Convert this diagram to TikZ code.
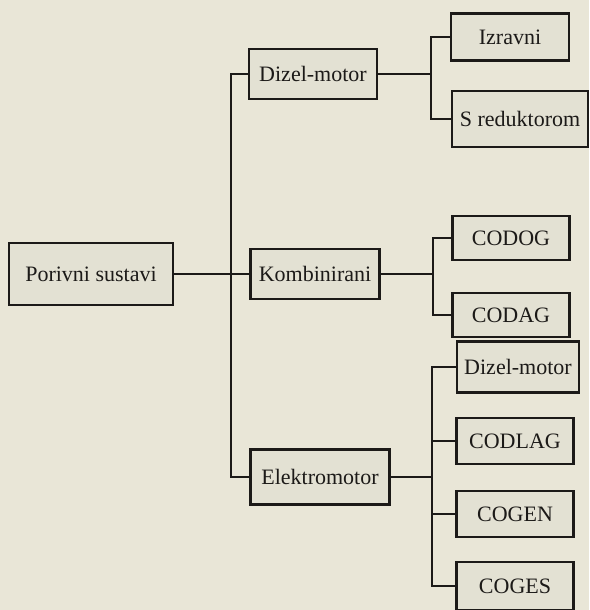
\documentclass[tikz,border=0pt]{standalone}
\usepackage{fontspec}
\setmainfont{Liberation Serif}
\usepackage{xcolor}
\usetikzlibrary{positioning}

\definecolor{papir}{RGB}{233,230,215}
\definecolor{okvir}{RGB}{227,225,211}
\definecolor{tinta}{RGB}{28,26,24}

\tikzset{
  blok/.style={draw=tinta, fill=okvir, line width=2.2pt, inner sep=0pt, text=tinta, font=\fontsize{22}{26}\selectfont},
  veza/.style={draw=tinta, line width=2.2pt}
}

\begin{document}
\begin{tikzpicture}[x=1pt, y=-1pt]

\fill[papir] (0,0) rectangle (589,610);
\useasboundingbox (0,0) rectangle (589,610);

\node[blok, minimum width=164pt, minimum height=62pt] (por) at (91,274) {Porivni sustavi};

\node[blok, minimum width=128pt, minimum height=50pt] (dm) at (313,74) {Dizel-motor};
\node[blok, minimum width=129pt, minimum height=50pt] (kom) at (315,274) {Kombinirani};
\node[blok, minimum width=139pt, minimum height=55pt] (ele) at (320,477) {Elektromotor};

\node[blok, minimum width=118pt, minimum height=47pt] (izr) at (510,37) {Izravni};
\node[blok, minimum width=136pt, minimum height=56pt] (sred) at (520,119) {S reduktorom};

\node[blok, minimum width=117pt, minimum height=44pt] (codog) at (511,238) {CODOG};
\node[blok, minimum width=117pt, minimum height=44pt] (codag) at (511,315) {CODAG};

\node[blok, minimum width=122pt, minimum height=51pt] (dm2) at (518,367) {Dizel-motor};
\node[blok, minimum width=117pt, minimum height=46pt] (codlag) at (515,441) {CODLAG};
\node[blok, minimum width=117pt, minimum height=46pt] (cogen) at (515,514) {COGEN};
\node[blok, minimum width=117pt, minimum height=48pt] (coges) at (515,586) {COGES};

% grananje
\coordinate (tr) at (231,274);
\coordinate (b1) at (431,74);
\coordinate (b2) at (433,274);
\coordinate (b3) at (432,477);

\draw[veza] (por) -- (tr);
\draw[veza] (dm.west) -| (tr) |- (ele.west);
\draw[veza] (tr) -- (kom);

\draw[veza] (dm) -- (b1);
\draw[veza] (izr.west) -| (b1) |- (sred.west);

\draw[veza] (kom) -- (b2);
\draw[veza] (codog.west) -| (b2) |- (codag.west);

\draw[veza] (ele) -- (b3);
\draw[veza] (dm2.west) -| (b3) |- (coges.west);
\draw[veza] (b3) |- (codlag.west);
\draw[veza] (b3) |- (cogen.west);

\end{tikzpicture}
\end{document}
